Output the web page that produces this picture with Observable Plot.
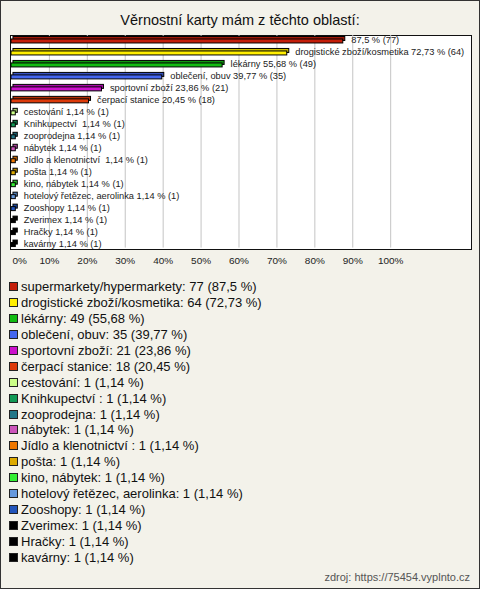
<!DOCTYPE html>
<html>
<head>
<meta charset="utf-8">
<script src="https://cdn.jsdelivr.net/npm/d3@7"></script>
<script src="https://cdn.jsdelivr.net/npm/@observablehq/plot@0.6"></script>
<style>
  html, body { margin: 0; padding: 0; }
  body { width: 480px; height: 589px; overflow: hidden; font-family: "Liberation Sans", Arial, sans-serif; }
  #wrap { position: relative; width: 480px; height: 589px; box-sizing: border-box; border: 1px solid #333; background: #f3f2ea; }
  #title { position: absolute; left: 0; top: 11px; width: 478px; text-align: center; font-size: 14.5px; color: #111; }
  #box { position: absolute; left: 9px; top: 34px; width: 462px; height: 215px; box-sizing: border-box; border: 1px solid #111; background: #fff; }
  #chart { position: absolute; left: -1px; top: 31px; }
  #legend { position: absolute; left: 8px; top: 278px; }
  .item { height: 15.9px; display: flex; align-items: center; font-size: 13px; color: #111; white-space: pre; }
  .sw { width: 9px; height: 9px; box-sizing: border-box; border: 1px solid #222; margin-right: 3px; }
  #source { position: absolute; right: 9px; top: 570px; font-size: 11px; color: #555; }
</style>
</head>
<body>
<div id="wrap">
  <div id="title">Věrnostní karty mám z těchto oblastí:</div>
  <div id="box"></div>
  <div id="chart"></div>
  <div id="legend"></div>
  <div id="source">zdroj: https://75454.vyplnto.cz</div>
</div>
<script>
const categories = [
  "supermarkety/hypermarkety", "drogistické zboží/kosmetika", "lékárny", "oblečení, obuv",
  "sportovní zboží", "čerpací stanice", "cestování", "Knihkupectví ", "zooprodejna",
  "nábytek", "Jídlo a klenotnictví ", "pošta", "kino, nábytek", "hotelový řetězec, aerolinka",
  "Zooshopy", "Zverimex", "Hračky", "kavárny"
];
const counts = [77, 64, 49, 35, 21, 18, 1, 1, 1, 1, 1, 1, 1, 1, 1, 1, 1, 1];
const percents = [87.5, 72.73, 55.68, 39.77, 23.86, 20.45, 1.14, 1.14, 1.14, 1.14, 1.14, 1.14, 1.14, 1.14, 1.14, 1.14, 1.14, 1.14];
// bar label names (the first bar in the reference shows no name)
const barNames = [
  "", "drogistické zboží/kosmetika", "lékárny", "oblečení, obuv",
  "sportovní zboží", "čerpací stanice", "cestování", "Knihkupectví ", "zooprodejna",
  "nábytek", "Jídlo a klenotnictví ", "pošta", "kino, nábytek", "hotelový řetězec, aerolinka",
  "Zooshopy", "Zverimex", "Hračky", "kavárny"
];
const colors = [
  "#c41e0a", "#ffee00", "#11bb11", "#4466ee", "#cc11cc", "#dd3a0a", "#ccff88", "#119955",
  "#227788", "#cc55bb", "#ee7700", "#ddaa00", "#33ee33", "#6699dd", "#2255bb", "#000000",
  "#000000", "#000000"
];
const xTicks = [0, 10, 20, 30, 40, 50, 60, 70, 80, 90, 100];

const fmt = v => String(v).replace(".", ",");
const data = categories.map((c, i) => ({
  cat: c, count: counts[i], pct: percents[i], color: colors[i],
  label: (barNames[i] ? barNames[i] + " " : "") + fmt(percents[i]) + " % (" + counts[i] + ")"
}));
const darker = c => d3.color(c).darker(0.6).formatHex();

const chart = Plot.plot({
  width: 480, height: 240,
  marginLeft: 11, marginRight: 89, marginTop: 3, marginBottom: 21,
  style: { background: "transparent", fontFamily: "Liberation Sans, Arial, sans-serif", overflow: "visible" },
  x: { domain: [0, 100], axis: null },
  y: { domain: categories, axis: null, padding: 0 },
  marks: [
    Plot.ruleX(xTicks.slice(1), { stroke: "#c4c4c4", strokeWidth: 1, insetBottom: 3 }),
    Plot.barX(data, { x: "pct", y: "cat", fill: d => darker(d.color), stroke: "#000", strokeWidth: 1, insetTop: 3.5, insetBottom: 4.5, dx: 2, dy: -2 }),
    Plot.barX(data, { x: "pct", y: "cat", fill: "color", stroke: "#000", strokeWidth: 1, insetTop: 4, insetBottom: 4 }),
    Plot.text(data, { x: "pct", y: "cat", text: "label", textAnchor: "start", dx: 8, dy: -1, fontSize: 9.3, fill: "#222" }),
    Plot.text(xTicks.slice(0, 1), { x: d => d, text: d => d + "%", frameAnchor: "bottom", dy: 13, dx: 1, textAnchor: "start", fontSize: 10, fill: "#222" }),
    Plot.text(xTicks.slice(1), { x: d => d, text: d => d + "%", frameAnchor: "bottom", dy: 13, fontSize: 10, fill: "#222" })
  ]
});
document.getElementById("chart").appendChild(chart);

const legend = document.getElementById("legend");
data.forEach(d => {
  const it = document.createElement("div");
  it.className = "item";
  const sw = document.createElement("span");
  sw.className = "sw";
  sw.style.background = d.color;
  const tx = document.createElement("span");
  tx.textContent = d.cat + ": " + d.count + " (" + fmt(d.pct) + " %)";
  it.appendChild(sw); it.appendChild(tx);
  legend.appendChild(it);
});
</script>
</body>
</html>
